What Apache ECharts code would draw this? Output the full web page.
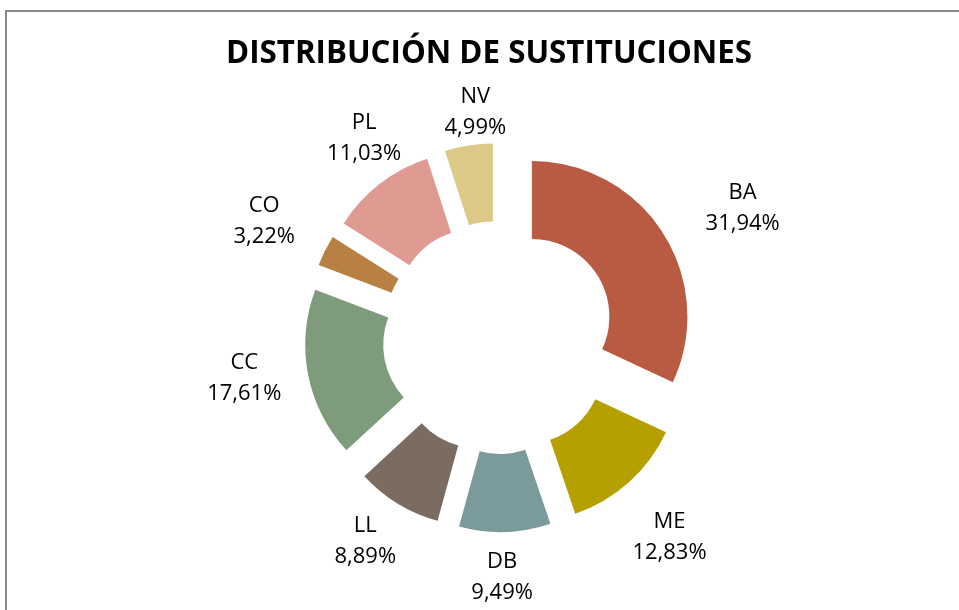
<!DOCTYPE html>
<html>
<head>
<meta charset="utf-8">
<script src="https://cdn.jsdelivr.net/npm/echarts@6/dist/echarts.min.js"></script>
<style>
  html, body { margin: 0; padding: 0; background: #fff; }
  #main { width: 959px; height: 610px; }
</style>
</head>
<body>
<div id="main"></div>
<script>
  // datos
  var categories = ['BA', 'ME', 'DB', 'LL', 'CC', 'CO', 'PL', 'NV'];
  var shares = [31.94, 12.83, 9.49, 8.89, 17.61, 3.22, 11.03, 4.99];
  var colors = ['#b95a43', '#b5a000', '#7b9a9b', '#7a6c60', '#7e9c7b', '#b98043', '#df9a92', '#dcc987'];

  // layout de las etiquetas (distancia al centro y giro en grados)
  var cx = 499, cy = 337.5;
  var labelDist = [276, 263, 240, 244, 258, 262, 241, 227];
  var labelTurn = [4.5, 1.5, 1, 1.9, 1.8, -0.2, 3.8, 3];

  var total = shares.reduce(function (a, b) { return a + b; }, 0);
  function midAngle(i) {
    var before = 0;
    for (var j = 0; j < i; j++) before += shares[j];
    return (before + shares[i] / 2) / total * 360;
  }

  var labels = categories.map(function (c, i) {
    var a = (midAngle(i) + labelTurn[i]) * Math.PI / 180;
    return {
      type: 'text',
      x: cx + labelDist[i] * Math.sin(a),
      y: cy - labelDist[i] * Math.cos(a),
      silent: true,
      style: {
        text: c + '\n' + shares[i].toFixed(2).replace('.', ',') + '%',
        fontFamily: 'Open Sans',
        fontSize: 22,
        lineHeight: 31,
        fill: '#000',
        textAlign: 'center',
        textVerticalAlign: 'middle'
      }
    };
  });

  var chart = echarts.init(document.getElementById('main'));
  var option = {
    animation: false,
    color: colors,
    graphic: [
      {
        type: 'rect',
        shape: { x: 6, y: 11, width: 1000, height: 700 },
        style: { fill: 'none', stroke: '#898989', lineWidth: 2 },
        silent: true
      },
      {
        type: 'text',
        x: 489,
        y: 54,
        style: {
          text: 'DISTRIBUCIÓN DE SUSTITUCIONES',
          fontFamily: 'Open Sans',
          fontWeight: 'bold',
          fontSize: 31.3,
          fill: '#000',
          textAlign: 'center',
          textVerticalAlign: 'middle'
        },
        silent: true
      }
    ].concat(labels),
    series: [
      {
        type: 'pie',
        center: [cx, cy],
        radius: [77.5, 155.5],
        startAngle: 90,
        clockwise: true,
        selectedMode: 'multiple',
        selectedOffset: 39,
        emphasis: { disabled: true },
        label: { show: false },
        labelLine: { show: false },
        data: categories.map(function (c, i) {
          return { name: c, value: shares[i], selected: true };
        })
      }
    ]
  };
  chart.setOption(option);
</script>
</body>
</html>
